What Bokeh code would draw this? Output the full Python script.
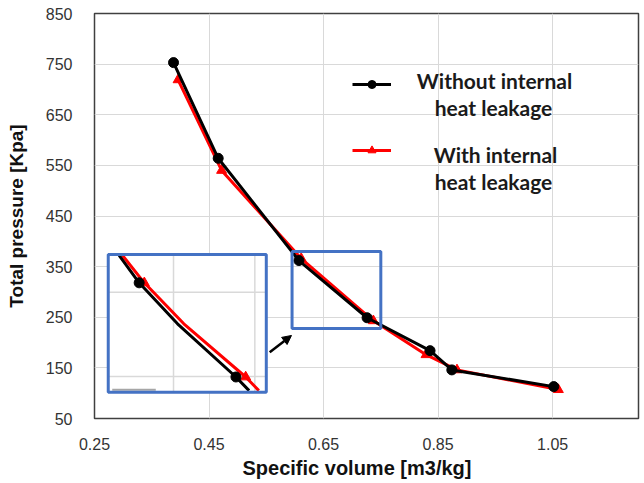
from bokeh.plotting import figure
from bokeh.models import (Range1d, FixedTicker, Legend, LegendItem, Label, Arrow, NormalHead, Title)
from bokeh.embed import file_html
from bokeh.resources import INLINE

# ---------------- data ----------------
v_without = [0.388, 0.466, 0.607, 0.726, 0.836, 0.874, 1.052]
p_without = [753, 564, 362, 249, 184, 146, 113]
v_with = [0.396, 0.472, 0.611, 0.737, 0.829, 0.883, 1.060]
p_with = [719, 540, 366, 243, 176, 146, 107]

x_ticks = [0.25, 0.45, 0.65, 0.85, 1.05]
x_tick_labels = ["0.25", "0.45", "0.65", "0.85", "1.05"]
y_ticks = [50, 150, 250, 350, 450, 550, 650, 750, 850]
y_tick_labels = ["50", "150", "250", "350", "450", "550", "650", "750", "850"]

series_names = ["Without internal\nheat leakage", "With internal\nheat leakage"]
x_title = "Specific volume [m3/kg]"
y_title = "Total pressure [Kpa]"

# magnified inset (a pasted zoom of the chart), read in main-axis units
inset_v_without = [0.293, 0.328, 0.395, 0.497, 0.520]
inset_p_without = [372, 318, 237, 132, 105]
inset_v_with = [0.299, 0.337, 0.406, 0.514, 0.537]
inset_p_with = [372, 318, 237, 132, 105]
inset_mark_v_without = [0.328, 0.497]
inset_mark_p_without = [318, 132]
inset_mark_v_with = [0.337, 0.514]
inset_mark_p_with = [318, 132]

# annotation boxes (left, right, bottom, top) in axis units
zoom_box = (0.595, 0.75, 228, 380)
inset_box = (0.274, 0.55, 102, 374)
inset_grid_v = [0.388, 0.530]
inset_grid_p = [299.5, 133]

BLUE = "#4472C4"
GRID = "#d9d9d9"

p = figure(width=644, height=483, output_backend="svg", toolbar_location=None,
           x_range=Range1d(0.25, 1.2), y_range=Range1d(50, 850),
           min_border_left=94, min_border_right=6, min_border_top=13, min_border_bottom=65)

p.background_fill_color = "white"
p.border_fill_color = "white"
p.outline_line_color = "#404040"
p.outline_line_width = 1.5

p.xaxis.ticker = FixedTicker(ticks=x_ticks)
p.yaxis.ticker = FixedTicker(ticks=y_ticks)
p.xaxis.major_label_overrides = {t: s for t, s in zip(x_ticks, x_tick_labels)}
p.yaxis.major_label_overrides = {t: s for t, s in zip(y_ticks, y_tick_labels)}
for ax in (p.xaxis, p.yaxis):
    ax.axis_line_color = None
    ax.major_tick_line_color = None
    ax.minor_tick_line_color = None
    ax.major_label_text_font = "Liberation Sans"
    ax.major_label_text_font_size = "16px"
    ax.major_label_text_color = "#333333"
    ax.axis_label_text_font = "Liberation Sans"
    ax.axis_label_text_font_style = "bold"
    ax.axis_label_text_font_size = "19px"
    ax.axis_label_text_color = "#111111"

p.yaxis.axis_label = y_title
p.yaxis.major_label_standoff = 16
p.yaxis.axis_label_standoff = 16
p.xaxis.major_label_standoff = 13

# x-axis title: a below-panel title, placed slightly left of the frame centre
p.add_layout(Title(text=x_title, align="left", offset=148, standoff=4,
                   text_font="Liberation Sans", text_font_style="bold", text_font_size="20px",
                   text_color="#111111"), "below")

p.xgrid.grid_line_color = GRID
p.ygrid.grid_line_color = GRID
p.xgrid.grid_line_width = 1
p.ygrid.grid_line_width = 1

# main series (red below black)
r_line = p.line(v_with, p_with, line_color="red", line_width=3)
r_mark = p.scatter(v_with, p_with, marker="triangle", size=10, fill_color="red", line_color="red")
b_line = p.line(v_without, p_without, line_color="black", line_width=3)
b_mark = p.scatter(v_without, p_without, marker="circle", size=10, fill_color="black", line_color="black")

# inset panel
p.quad(left=[inset_box[0]], right=[inset_box[1]], bottom=[inset_box[2]], top=[inset_box[3]],
       fill_color="white", line_color=None)
p.segment(x0=inset_grid_v, x1=inset_grid_v, y0=[inset_box[2]] * 2, y1=[inset_box[3]] * 2,
          line_color=GRID, line_width=1.5)
p.segment(x0=[inset_box[0]] * 2, x1=[inset_box[1]] * 2, y0=inset_grid_p, y1=inset_grid_p,
          line_color=GRID, line_width=1.5)
p.segment(x0=[0.281], x1=[0.357], y0=[107], y1=[107], line_color="#a6a6a6", line_width=2)
p.line(inset_v_with, inset_p_with, line_color="red", line_width=3)
p.scatter(inset_mark_v_with, inset_mark_p_with, marker="triangle", size=10, fill_color="red", line_color="red")
p.line(inset_v_without, inset_p_without, line_color="black", line_width=3)
p.scatter(inset_mark_v_without, inset_mark_p_without, marker="circle", size=10, fill_color="black", line_color="black")
p.quad(left=[inset_box[0]], right=[inset_box[1]], bottom=[inset_box[2]], top=[inset_box[3]],
       fill_color=None, line_color=BLUE, line_width=3)

# zoom box on the curve
p.quad(left=[zoom_box[0]], right=[zoom_box[1]], bottom=[zoom_box[2]], top=[zoom_box[3]],
       fill_color=None, line_color=BLUE, line_width=3)

# arrow from inset to zoom box
p.add_layout(Arrow(end=NormalHead(size=9, fill_color="black", line_color="black"),
                   x_start=0.556, y_start=181, x_end=0.594, y_end=214,
                   line_color="black", line_width=2.5))

# legends (glyph samples only; texts as labels)
for rends, y_off in (([b_line, b_mark], 324), ([r_line, r_mark], 258)):
    lg = Legend(items=[LegendItem(label=" ", renderers=rends)], location=(258, y_off),
                glyph_width=39, glyph_height=20, label_width=1, label_height=20,
                label_text_font_size="1px", padding=0, margin=0, spacing=0,
                border_line_color=None, background_fill_alpha=0)
    p.add_layout(lg)

leg_font = "Lato"
for txt, x_off, y_off in ((series_names[0].split("\n")[0], 400, 338),
                          (series_names[0].split("\n")[1], 399, 311),
                          (series_names[1].split("\n")[0], 401, 264),
                          (series_names[1].split("\n")[1], 399, 237)):
    p.add_layout(Label(x=x_off, y=y_off, x_units="screen", y_units="screen", text=txt,
                       text_font=leg_font, text_font_style="bold", text_font_size="21px",
                       text_align="center", text_baseline="middle", text_color="#1a1a1a"))

open("out.html", "w").write(file_html(p, INLINE))
